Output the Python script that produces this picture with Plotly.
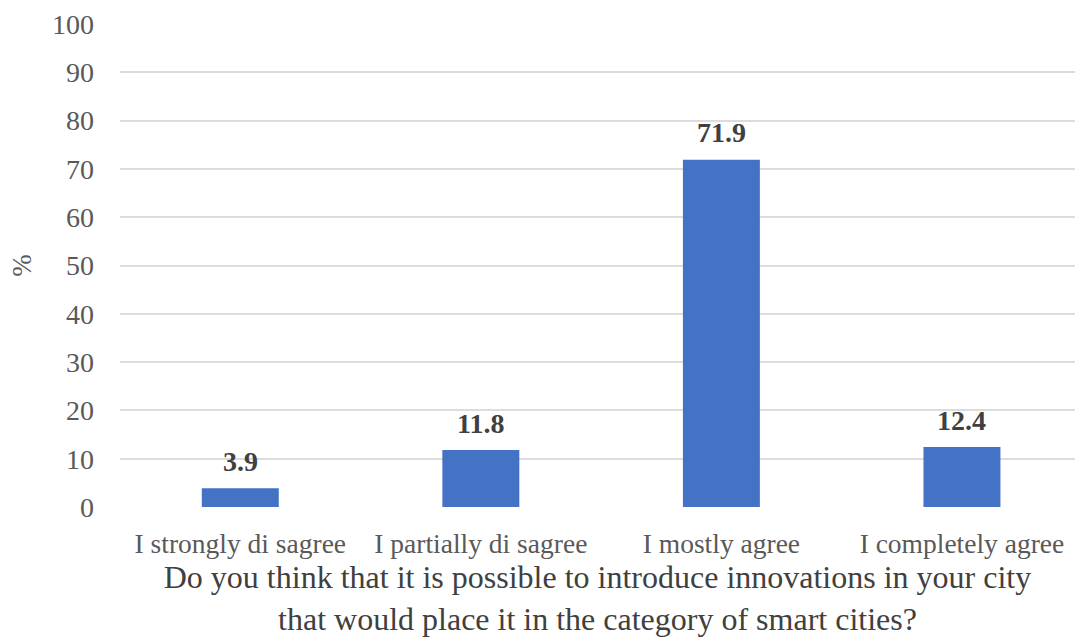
import plotly.graph_objects as go

# Survey responses (% of respondents)
categories = ["I strongly disagree", "I partially disagree", "I mostly agree", "I completely agree"]
tick_labels = ["I strongly di sagree", "I partially di sagree", "I mostly agree", "I completely agree"]
percentages = [3.9, 11.8, 71.9, 12.4]
y_ticks = [0, 10, 20, 30, 40, 50, 60, 70, 80, 90, 100]

serif = "Liberation Serif, Times New Roman, serif"

fig = go.Figure(
    go.Bar(
        x=categories,
        y=percentages,
        width=0.32,
        marker=dict(color="#4472C4", line=dict(width=0)),
        hoverinfo="x+y",
    )
)

# Value labels sitting above each bar
for cat, val in zip(categories, percentages):
    fig.add_annotation(
        x=cat,
        y=val,
        text=f"<b>{val:.1f}</b>",
        showarrow=False,
        yanchor="middle",
        yshift=27,
        font=dict(family=serif, size=28, color="#404040"),
    )

fig.update_layout(
    width=1075,
    height=637,
    margin=dict(l=120, r=0, t=24, b=130),
    paper_bgcolor="white",
    plot_bgcolor="white",
    showlegend=False,
    xaxis=dict(
        range=[-0.5, 3.47],
        tickvals=categories,
        ticktext=tick_labels,
        tickfont=dict(family=serif, size=27.5, color="#595959"),
        showgrid=False,
        showline=False,
        zeroline=False,
        ticks="",
        ticklabelstandoff=17,
        title=dict(
            text="Do you think that it is possible to introduce innovations in your city<br>that would place it in the category of smart cities?",
            font=dict(family=serif, size=32, color="#404040"),
            standoff=11,
        ),
    ),
    yaxis=dict(
        range=[0, 100],
        tickvals=y_ticks,
        tickfont=dict(family=serif, size=28, color="#595959"),
        showgrid=True,
        gridcolor="#DCDCDC",
        gridwidth=1.5,
        zeroline=False,
        showline=False,
        ticks="",
        ticklabelstandoff=25,
        title=dict(
            text="%",
            font=dict(family=serif, size=27, color="#595959"),
            standoff=12,
        ),
    ),
)

fig.write_html("out.html")
